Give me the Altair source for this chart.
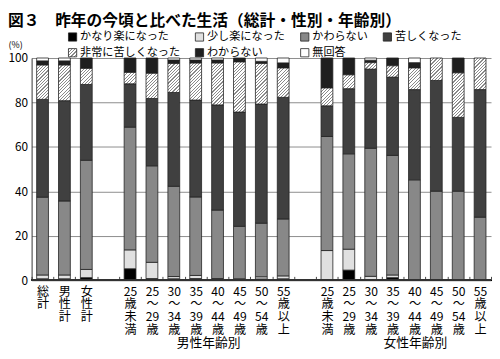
import altair as alt
import pandas as pd

title_text = "図３　昨年の今頃と比べた生活（総計・性別・年齢別）"
categories = ["かなり楽になった", "少し楽になった", "かわらない", "苦しくなった",
              "非常に苦しくなった", "わからない", "無回答"]
hatch_cat = "非常に苦しくなった"

# bar keys: 2-char prefix keeps them unique, "|" separates label lines
bar_keys = ["t:総||計", "t:男|性|計", "t:女|性|計",
            "m:25|歳|未|満", "m:25|～|29|歳", "m:30|～|34|歳", "m:35|～|39|歳",
            "m:40|～|44|歳", "m:45|～|49|歳", "m:50|～|54|歳", "m:55|歳|以|上",
            "f:25|歳|未|満", "f:25|～|29|歳", "f:30|～|34|歳", "f:35|～|39|歳",
            "f:40|～|44|歳", "f:45|～|49|歳", "f:50|～|54|歳", "f:55|歳|以|上"]
x_domain = bar_keys[:3] + ["a:"] + bar_keys[3:11] + ["b:"] + bar_keys[11:]

kanari    = [0.7, 0.7, 1.2, 5.2, 0.8, 0.7, 0.8, 0.3, 0.3, 0.6, 0.7, 0.0, 4.6, 0.0, 1.2, 0.0, 0.0, 0.0, 0.0]
sukoshi   = [1.7, 1.7, 3.7, 8.5, 7.3, 1.0, 1.4, 0.5, 0.4, 1.0, 1.3, 13.4, 9.4, 1.8, 1.2, 0.0, 0.0, 0.0, 0.0]
kawaranai = [35.0, 33.3, 49.1, 55.2, 43.4, 40.6, 35.3, 30.8, 23.6, 24.1, 25.6, 51.3, 42.9, 57.6, 53.8, 45.2, 40.1, 40.1, 28.4]
kurushiku = [44.0, 45.1, 34.1, 19.5, 30.3, 42.2, 43.6, 47.3, 51.4, 53.6, 54.7, 13.8, 29.3, 35.6, 35.2, 40.6, 49.8, 33.2, 57.4]
hijou     = [15.4, 16.0, 7.2, 5.1, 11.3, 13.0, 16.6, 18.8, 22.5, 18.2, 13.2, 8.0, 6.2, 2.9, 5.1, 9.7, 10.1, 20.0, 14.2]
wakaranai = [1.9, 1.9, 4.7, 6.5, 6.9, 1.6, 1.4, 1.4, 1.8, 1.0, 2.3, 13.5, 7.6, 1.1, 3.5, 2.4, 0.0, 6.7, 0.0]
mukaitou  = [1.3, 1.3, 0.0, 0.0, 0.0, 0.9, 0.9, 0.9, 0.0, 1.5, 2.2, 0.0, 0.0, 1.0, 0.0, 2.1, 0.0, 0.0, 0.0]
series = [kanari, sukoshi, kawaranai, kurushiku, hijou, wakaranai, mukaitou]

group_labels = ["男性年齢別", "女性年齢別"]
group_anchor = ["m:40|～|44|歳", "f:40|～|44|歳"]

FONT = "Noto Sans CJK JP"

rows = []
for i, key in enumerate(bar_keys):
    lo = 0.0
    for c, vals in zip(categories, series):
        v = vals[i]
        if v > 0:
            rows.append({"key": key, "cat": c, "value": v, "lo": lo, "hi": lo + v})
        lo += v
df = pd.DataFrame(rows)


def stops_str(n, frac=0.35, line="#8a8a8a", bg="#ffffff"):
    parts = []
    for i in range(n):
        a = i / n
        b = (i + frac) / n
        c = (i + 1) / n
        parts += [f"{{offset:{a:.5f},color:'{line}'}}", f"{{offset:{b:.5f},color:'{line}'}}",
                  f"{{offset:{b:.5f},color:'{bg}'}}", f"{{offset:{c:.5f},color:'{bg}'}}"]
    return ",".join(parts)


legend_hatch = "{gradient:'linear',x1:0,y1:0,x2:1,y2:1,stops:[" + stops_str(5) + "]}"
N, P = 24, 3.3
W = "(bandwidth('x')*0.54)"
H = "(scale('y',datum.lo)-scale('y',datum.hi))"
D = f"({W}*{W}+{H}*{H})"
bar_hatch = ("{gradient:'linear',x1:0,y1:0,"
             f"x2:{N*P}*{W}/{D},y2:{N*P}*{H}/{D},"
             "stops:[" + stops_str(N) + "]}")

color_range = ["#000000", "#e0e0e0", "#888888", "#404040",
               {"expr": legend_hatch}, "#1f1f1f", "#ffffff"]

x_enc = alt.X("key:N", scale=alt.Scale(domain=x_domain, paddingInner=0, paddingOuter=0),
              axis=alt.Axis(title=None, labelExpr="split(slice(datum.label, 2), '|')",
                            labelAngle=0, labelFontSize=12.3, labelLineHeight=13.1,
                            labelBaseline="top", labelPadding=5, labelColor="#000",
                            labelOverlap=False, ticks=True, tickBand="extent", tickSize=4,
                            tickColor="#444", domain=False, offset=-4, grid=False))
y_enc = alt.Y("lo:Q", scale=alt.Scale(domain=[0, 100], nice=False),
              axis=alt.Axis(values=[0, 20, 40, 60, 80, 100], grid=True, gridColor="#8c8c8c",
                            gridWidth=1, ticks=False, domain=True, domainColor="#333",
                            labelFontSize=12, labelPadding=4, labelColor="#000",
                            title="(%)", titleAngle=0, titleFontSize=9, titleFontWeight="normal",
                            titleX=-24, titleY=-14, titleAlign="left", titleBaseline="middle"))

base = alt.Chart(df)
bars = base.transform_filter(alt.datum.cat != hatch_cat).mark_bar(
    width=alt.RelativeBandSize(0.54), stroke="#222", strokeWidth=0.8
).encode(
    x=x_enc, y=y_enc, y2="hi:Q",
    color=alt.Color("cat:N", scale=alt.Scale(domain=categories, range=color_range),
                    legend=alt.Legend(title=None, orient="none", legendX=36, legendY=-27,
                                      direction="horizontal", columns=4, gridAlign="none",
                                      symbolType="square", symbolSize=70,
                                      symbolStrokeColor="#222", symbolStrokeWidth=0.8,
                                      labelFontSize=11.3, labelOffset=2, columnPadding=13,
                                      rowPadding=3, labelColor="#000"))
)
hatch = base.transform_filter(alt.datum.cat == hatch_cat).mark_bar(
    width=alt.RelativeBandSize(0.54), stroke="#222", strokeWidth=0.8,
    fill=alt.ExprRef(bar_hatch)
).encode(x=x_enc, y=y_enc, y2="hi:Q")

baseline = base.mark_rule(color="#333", strokeWidth=1).encode(y=alt.datum(0))

gdf = pd.DataFrame({"key": group_anchor, "label": group_labels})
g_men = alt.Chart(gdf.iloc[:1]).mark_text(fontSize=13, dx=-9, baseline="alphabetic", color="#000").encode(
    x=x_enc, y=alt.value(294), text="label:N")
g_women = alt.Chart(gdf.iloc[1:]).mark_text(fontSize=13, dx=1, baseline="alphabetic", color="#000").encode(
    x=x_enc, y=alt.value(294), text="label:N")

title = alt.Chart(pd.DataFrame({"t": [title_text]})).mark_text(
    fontSize=16, fontWeight="bold", align="left", baseline="top", color="#000"
).encode(x=alt.value(-24), y=alt.value(-46), text="t:N")

chart = alt.layer(bars, hatch, baseline, g_men, g_women, title).properties(
    width=467, height=226,
    autosize=alt.AutoSizeParams(type="none"),
    padding={"left": 24, "top": 48, "right": 1, "bottom": 68},
).configure(font=FONT).configure_view(stroke=None)

chart.save("out.html", embed_options={"renderer": "svg", "actions": False})
